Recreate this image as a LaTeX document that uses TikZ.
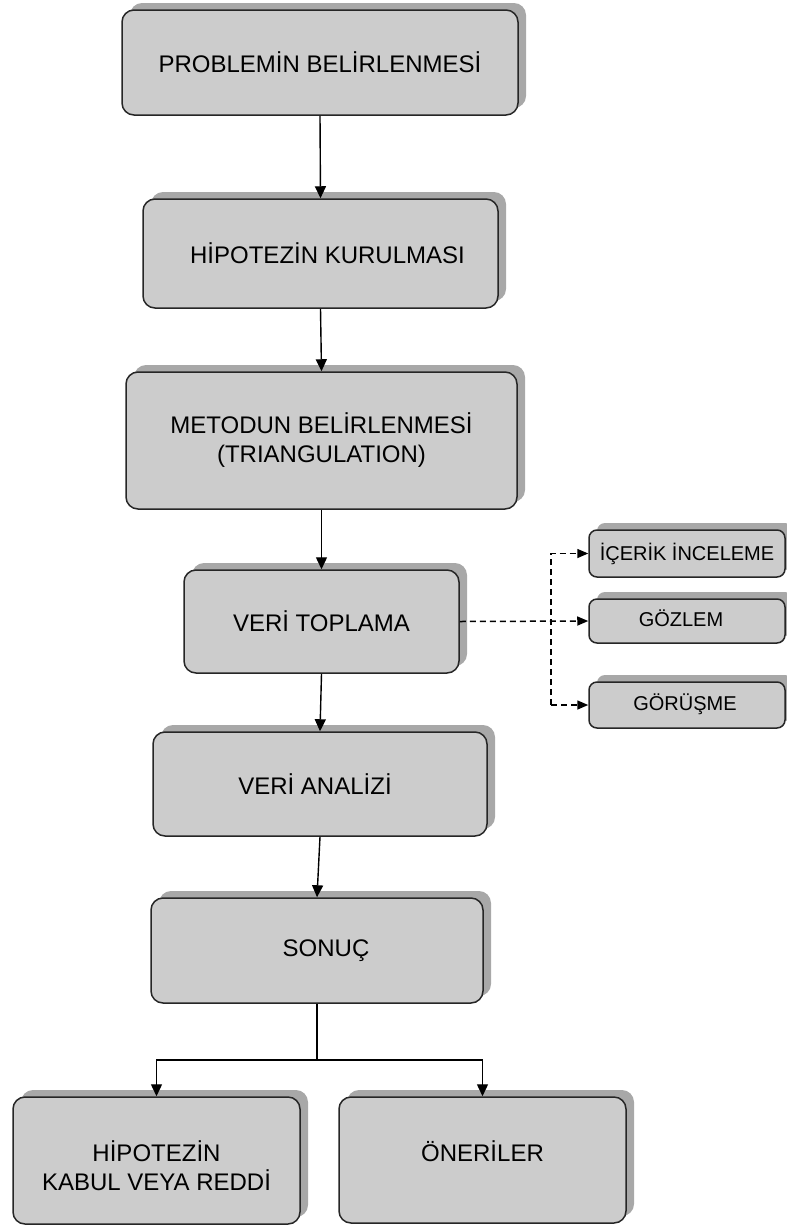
\documentclass[tikz,border=0pt]{standalone}
\usepackage{fontspec}
\setmainfont{Liberation Sans}
\usetikzlibrary{arrows.meta,shadows}
\definecolor{boxfill}{HTML}{CCCCCC}
\definecolor{shadowgray}{HTML}{A8A8A8}
\definecolor{boxline}{HTML}{262626}
\begin{document}
\begin{tikzpicture}[x=1pt,y=-1pt,
  box/.style={rectangle, draw=boxline, line width=1.5pt, fill=boxfill, rounded corners=12pt,
    align=center, inner sep=0pt, font=\fontsize{24}{29}\selectfont,
    drop shadow={shadow xshift=8pt, shadow yshift=7pt, fill=shadowgray, opacity=1}},
  smallbox/.style={box, rounded corners=8pt, font=\fontsize{20}{24}\selectfont},
  arr/.style={line width=1.4pt, -{Triangle[length=12pt,width=11pt]}},
  plainline/.style={line width=1.4pt},
  darr/.style={line width=1.5pt, dash pattern=on 6pt off 4pt, -{Triangle[length=11pt,width=9pt]}}]
\useasboundingbox (0,0) rectangle (787,1227);

\node[box, minimum width=396pt, minimum height=105pt] (b1) at (320,62.5) {PROBLEMİN BELİRLENMESİ};
\node[box, minimum width=355pt, minimum height=109pt] (b2) at (320.5,253.5) {\hspace*{14pt}HİPOTEZİN KURULMASI};
\node[box, minimum width=391pt, minimum height=137pt] (b3) at (321.5,440.5) {METODUN BELİRLENMESİ\\(TRIANGULATION)};
\node[box, minimum width=275pt, minimum height=103pt] (b4) at (321.5,621.5) {VERİ TOPLAMA};
\node[box, minimum width=334pt, minimum height=104pt] (b5) at (320,784) {VERİ ANALİZİ\hspace*{10pt}};
\node[box, minimum width=332pt, minimum height=105pt] (b6) at (317,950.5) {\hspace*{18pt}SONUÇ};
\node[box, minimum width=287pt, minimum height=127pt, text height=61pt] (b7) at (156.5,1160.5) {HİPOTEZİN\\KABUL VEYA REDDİ};
\node[box, minimum width=287pt, minimum height=126pt, text depth=18pt] (b8) at (482.5,1160) {ÖNERİLER};

\node[smallbox, minimum width=196pt, minimum height=47pt, text depth=4pt] (s1) at (687,553.5) {İÇERİK İNCELEME};
\node[smallbox, minimum width=196pt, minimum height=44pt, text depth=6pt] (s2) at (687,621) {GÖZLEM\hspace*{12pt}};
\node[smallbox, minimum width=196pt, minimum height=46pt, text depth=6pt] (s3) at (687,705) {GÖRÜŞME\hspace*{4pt}};

\draw[arr] (b1.south) -- (b2.north);
\draw[arr] (b2.south) -- (b3.north);
\draw[arr] (b3.south) -- (b4.north);
\draw[arr] (b4.south) -- (b5.north);
\draw[arr] (b5.south) -- (b6.north);

\coordinate (j) at (317,1060);
\draw[plainline] (b6.south) -- (j);
\draw[arr] (j) -| (b7.north);
\draw[arr] (j) -| (b8.north);

\coordinate (vx) at (551,0);
\draw[darr] (b4.east) -- (s2.west);
\draw[darr] (vx |- s3.west) -- (vx |- s1.west) -- (s1.west);
\draw[darr] (vx |- s3.west) -- (s3.west);
\end{tikzpicture}
\end{document}
